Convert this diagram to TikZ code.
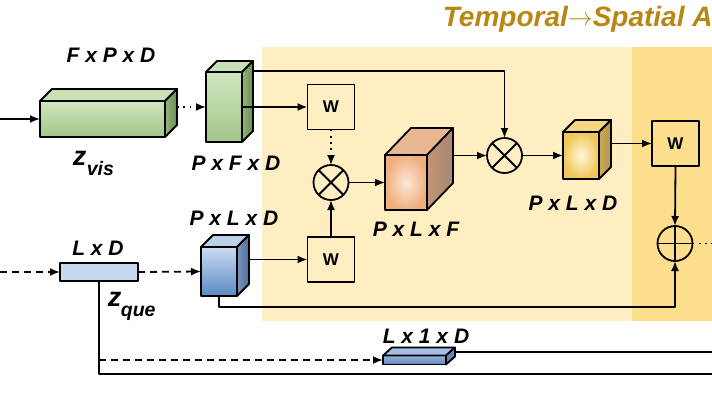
\documentclass[tikz,border=0pt]{standalone}
\usepackage{fontspec}
\setmainfont{Liberation Sans}
\usetikzlibrary{arrows.meta,calc}

\definecolor{bgA}{RGB}{254,238,194}
\definecolor{bgB}{RGB}{252,222,140}
\definecolor{ttl}{RGB}{184,134,18}
\definecolor{gFT}{RGB}{210,230,192}
\definecolor{gFB}{RGB}{160,198,135}
\definecolor{gTop}{RGB}{200,224,180}
\definecolor{gS1}{RGB}{150,180,125}
\definecolor{gS2}{RGB}{105,140,85}
\definecolor{bFT}{RGB}{202,220,242}
\definecolor{bFB}{RGB}{92,136,196}
\definecolor{bTop}{RGB}{188,208,234}
\definecolor{bS1}{RGB}{120,150,190}
\definecolor{bS2}{RGB}{80,110,155}
\definecolor{rIn}{RGB}{253,232,216}
\definecolor{rOut}{RGB}{238,175,125}
\definecolor{rTop}{RGB}{232,182,145}
\definecolor{rS1}{RGB}{195,150,115}
\definecolor{rS2}{RGB}{168,135,115}
\definecolor{yIn}{RGB}{255,246,218}
\definecolor{yOut}{RGB}{240,198,88}
\definecolor{yTop}{RGB}{246,214,126}
\definecolor{yS1}{RGB}{205,170,85}
\definecolor{yS2}{RGB}{180,150,75}
\definecolor{qFill}{RGB}{197,217,241}
\definecolor{b2T}{RGB}{150,180,220}
\definecolor{b2B}{RGB}{100,136,186}
\definecolor{b2Top}{RGB}{165,192,226}
\definecolor{b2S}{RGB}{105,135,180}

\newcommand{\boxfaces}[5]{%
  \draw[#4] (#1.north west) -- ++(#2,-#3) -- ($(#1.north east)+(#2,-#3)$) -- (#1.north east) -- cycle;
  \draw[#5] (#1.north east) -- ++(#2,-#3) -- ($(#1.south east)+(#2,-#3)$) -- (#1.south east) -- cycle;}

\tikzset{
  lbl/.style={inner sep=0pt, anchor=base, font=\bfseries\itshape\fontsize{21}{21}\selectfont},
  front/.style={draw, inner sep=0pt, outer sep=0pt},
  wbox/.style={draw, minimum width=47, minimum height=45, inner sep=0pt, outer sep=0pt,
    font=\bfseries\fontsize{17}{17}\selectfont},
  opcirc/.style={draw, circle, minimum size=35, inner sep=0pt, outer sep=0pt},
  arr/.style={-{Latex[length=10pt,width=8pt]}},
  dotarr/.style={-{Latex[length=10pt,width=8pt]}, dash pattern=on 1.8pt off 4.5pt},
  dotline/.style={dash pattern=on 1.8pt off 4.5pt},
  dasharr/.style={-{Latex[length=10pt,width=8pt]}, dash pattern=on 7pt off 5pt},
  zbig/.style={anchor=base west, inner sep=0pt, font=\bfseries\itshape\fontsize{27}{27}\selectfont},
  zsub/.style={anchor=base west, inner sep=0pt, font=\bfseries\itshape\fontsize{19.5}{19.5}\selectfont},
}

\begin{document}
\begin{tikzpicture}[x=1pt,y=-1pt,line width=1.8pt,line join=round]
\useasboundingbox (0,0) rectangle (712,404);
\begin{scope}
\clip (0,0) rectangle (712,404);

% backgrounds
\fill[bgA] (262,47) rectangle (712,321);
\fill[bgB] (632,47) rectangle (712,321);

% title
\node[anchor=base west, inner sep=0pt, text=ttl, font=\bfseries\itshape\fontsize{28}{28}\selectfont] (title) at (442,27) {Temporal\raisebox{1pt}{$\rightarrow$}Spatial A};

% green long box z_vis
\node[front, top color=gFT, bottom color=gFB, minimum width=125, minimum height=36] (zvis) at (102.5,119) {};
\boxfaces{zvis}{12}{12}{fill=gTop}{left color=gS1, right color=gS2}
\node[lbl] (lfpd) at (111,63) {F x P x D};
\node[zbig] (zv) at (72,165) {z};
\node[zsub] (zvsub) at (86,175) {vis};

% green tall box
\node[front, top color=gFT, bottom color=gFB, minimum width=36, minimum height=70] (gtall) at (224,107) {};
\boxfaces{gtall}{11}{11}{fill=gTop}{left color=gS1, right color=gS2}
\node[lbl] (lpfd) at (236,170) {P x F x D};

% blue cube
\node[front, top color=bFT, bottom color=bFB, minimum width=36, minimum height=49] (bcube) at (219,271.5) {};
\boxfaces{bcube}{12}{12}{fill=bTop}{left color=bS1, right color=bS2}
\node[lbl] (lpld1) at (234,225) {P x L x D};

% W boxes
\node[wbox] (W1) at (331,107) {W};
\node[wbox] (W2) at (331,259.5) {W};
\node[wbox] (W3) at (675.5,143.5) {W};

% otimes circles
\node[opcirc] (ot1) at (331,182.5) {};
\draw (ot1.45) -- (ot1.225) (ot1.135) -- (ot1.315);
\node[opcirc] (ot2) at (504.5,155.5) {};
\draw (ot2.45) -- (ot2.225) (ot2.135) -- (ot2.315);
% oplus
\node[opcirc] (op) at (675,243.5) {};
\draw (op.north) -- (op.south) (op.west) -- (op.east);

% brown cube
\node[front, shading=radial, inner color=rIn, outer color=rOut, minimum width=42, minimum height=55] (brown) at (406,182.5) {};
\boxfaces{brown}{26}{27}{fill=rTop}{left color=rS1, right color=rS2}
\node[lbl] (lplf) at (416,236) {P x L x F};

% yellow cube
\node[front, shading=radial, inner color=yIn, outer color=yOut, minimum width=36, minimum height=47] (ycube) at (581,155.5) {};
\boxfaces{ycube}{12}{12}{fill=yTop}{left color=yS1, right color=yS2}
\node[lbl] (lpld2) at (573,210) {P x L x D};

% query bar
\node[front, fill=qFill, minimum width=78, minimum height=18] (qbar) at (99,272) {};
\node[lbl] (lld) at (98,255) {L x D};
\node[zbig] (zq) at (107,306) {z};
\node[zsub] (zqsub) at (120,316) {que};

% bar2
\node[front, top color=b2T, bottom color=b2B, minimum width=63, minimum height=9] (bar2) at (414.5,360) {};
\boxfaces{bar2}{9}{8}{fill=b2Top}{fill=b2S}
\node[lbl] (ll1d) at (426,343) {L x 1 x D};

% coordinates
\coordinate (in1) at (0,119);
\coordinate (zvisR) at ($(zvis.east)+(12,0)$);
\coordinate (gtR) at ($(gtall.north east)+(11,-1)$);
\coordinate (brR) at ($(brown.east)+(26,-27)$);
\coordinate (ycR) at ($(ycube.east)+(12,-12)$);
\coordinate (bcR) at ($(bcube.east)+(12,-12)$);
\coordinate (opR) at (712,243.5);
\coordinate (q0) at (0,272);
\coordinate (qb) at (99,360);
\coordinate (qend) at (712,374);
\coordinate (b2R) at ($(bar2.east)+(9,-8)$);

% connectors
\draw[arr] (in1) -- (zvis.west);
\draw[dotarr] (zvisR |- gtall.west) -- (gtall.west);
\draw[arr] (gtR) -| (ot2.north);
\draw[arr] (gtall.east) -- (W1.west);
\draw[dotarr] (W1.south) -- (ot1.north);
\draw[arr] (W2.north) -- (ot1.south);
\draw[arr] (ot1.east) -- (brown.west);
\draw[arr] (brR) -- (ot2.west);
\draw[arr] (ot2.east) -- (ycube.west);
\draw[arr] (ycR) -- (W3.west);
\draw[arr] (W3.south) -- (op.north);
\draw[arr] (bcR) -- (W2.west);
\draw[arr] (bcube.south) -- ++(0,11) -| (op.south);
\draw[dotline] (op.east) -- (opR);
\draw[dasharr] (q0) -- (qbar.west);
\draw[dasharr] (qbar.east) -- (bcube.west);
\draw (qbar.south) |- (qend);
\draw[dasharr] (qb) -- (bar2.west);
\draw (b2R) -- (b2R -| qend);
\end{scope}
\end{tikzpicture}
\end{document}
